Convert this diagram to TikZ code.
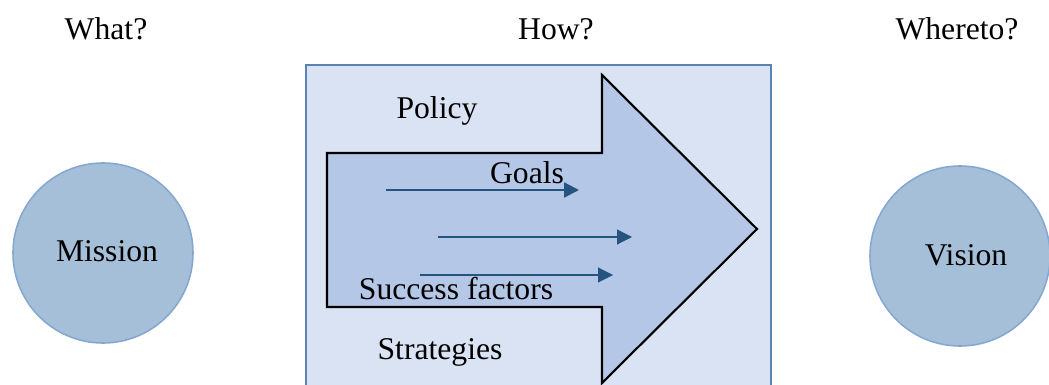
\documentclass[tikz,border=0pt]{standalone}
\usepackage{fontspec}
\setmainfont{Liberation Serif}
\usepackage{tikz}
\usetikzlibrary{calc,shapes,positioning}
\usetikzlibrary{arrows.meta}
\tikzset{>={Triangle[width=3.7mm,length=3.7mm]}}
\definecolor{boxfill}{HTML}{DAE3F3}
\definecolor{boxedge}{HTML}{5A83B4}
\definecolor{arrowfill}{HTML}{B4C7E7}
\definecolor{circfill}{HTML}{A6BFD9}
\definecolor{circedge}{HTML}{86A7CE}
\definecolor{flowblue}{HTML}{25557F}

\begin{document}
\begin{tikzpicture}[x=0.025cm,y=-0.025cm]
      \tikzstyle{tnode} = [anchor=base, inner sep=0pt, font=\fontsize{22.5}{27}\selectfont]
      \tikzstyle{cnode} = [circle, draw=circedge, fill=circfill, line width=1.1pt, minimum size=4.5cm, inner sep=0pt]
      \tikzstyle{flow} = [->, draw=flowblue, line width=0.8pt]

      \useasboundingbox (0,0) rectangle (1049,385);
      \clip (0,0) rectangle (1049,385);

      % frame and big arrow
      \draw[draw=boxedge, fill=boxfill, line width=1.1pt] (306,65) rectangle (771,400);
      \draw[fill=arrowfill, line width=1.5pt] (327,153) -- (602,153) -- (602,75) -- (757,229)
        -- (602,383) -- (602,307) -- (327,307) -- cycle;

      \node[tnode] (what) at (106,40) {What?};
      \node[tnode] (how) at (556,40) {How?};
      \node[tnode] (where) at (957,40) {Whereto?};

      \node[cnode] (mission) at (103,253) {};
      \node[cnode] (vision) at (960,256) {};
      \node[tnode] (missiontxt) at (107,262) {Mission};
      \node[tnode] (visiontxt) at (966,266) {Vision};

      \node[tnode] (policy) at (437,119) {Policy};
      \node[tnode] (goals) at (527,184) {Goals};
      \node[tnode] (succ) at (456,299) {Success factors};
      \node[tnode] (strat) at (440,359) {Strategies};

      \coordinate (g1) at (386,190);
      \coordinate (g2) at (579,190);
      \coordinate (m1) at (438,237);
      \coordinate (m2) at (632,237);
      \coordinate (s1) at (420,275);
      \coordinate (s2) at (613,275);

      \draw[flow, line width=1.5pt] (g1) -- (g2);
      \draw[flow] (m1) -- (m2);
      \draw[flow] (s1) -- (s2);
\end{tikzpicture}
\end{document}
